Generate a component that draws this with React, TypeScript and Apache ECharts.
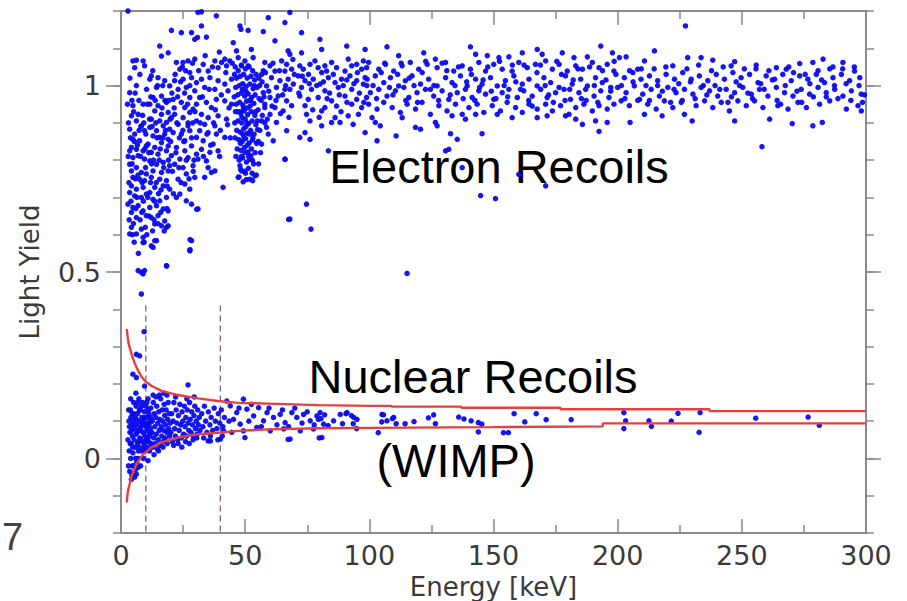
import React, { useEffect, useRef } from "react";
import * as echarts from "echarts";

// Electron-recoil events, flat [energy keV, light yield] pairs
const erBelow30: number[] = [
  4.8,1.066, 6.2,1.068, 8.9,1.066, 9.5,1.053, 5.5,1.048, 3.5,0.981, 6.2,1.0, 4.8,0.946, 4.2,0.919, 6.9,0.923,
  8.9,0.95, 6.2,0.905, 3.5,0.883, 5.5,0.87, 8.2,0.892, 9.5,0.879, 4.8,0.856, 7.5,0.852, 4.2,0.834, 3.5,0.825,
  6.2,0.829, 8.9,0.825, 10.2,0.838, 4.8,0.807, 6.9,0.812, 9.5,0.803, 3.5,0.789, 4.2,0.771, 6.2,0.78, 8.2,0.767,
  10.2,0.763, 4.8,0.754, 7.5,0.749, 9.5,0.745, 4.2,0.731, 6.2,0.722, 3.5,0.713, 8.9,0.727, 5.5,0.704, 8.2,0.7,
  10.2,0.709, 2.8,0.682, 4.8,0.673, 6.9,0.678, 4.2,0.66, 8.9,0.664, 6.2,0.646, 10.2,0.651, 4.2,0.62, 3.5,0.602,
  8.2,0.615, 8.9,0.593, 6.2,0.602, 8.9,0.579, 12.9,0.566, 14.3,0.584, 6.9,0.504, 8.2,0.499, 9.5,0.504, 8.9,0.495,
  8.2,0.441, 18.4,0.516, 27.8,0.587, 27.8,0.56, 30.5,0.668, 2.8,1.2,
  15.6,1.106, 16.3,1.079, 19.0,1.088, 12.2,1.026, 11.6,1.017, 14.9,1.021, 17.6,1.013, 14.3,0.995, 19.6,0.999, 12.9,0.968,
  16.3,0.972, 18.3,0.955, 11.6,0.95, 14.9,0.946, 13.6,0.932, 16.3,0.923, 19.0,0.928, 12.2,0.91, 15.6,0.905, 18.3,0.901,
  20.3,0.914, 11.6,0.888, 14.3,0.879, 17.0,0.892, 19.6,0.883, 12.9,0.865, 15.6,0.861, 19.0,0.856, 17.6,0.87, 10.9,0.843,
  13.6,0.834, 16.3,0.847, 19.0,0.838, 12.2,0.821, 14.9,0.816, 18.3,0.825, 20.3,0.812, 11.6,0.798, 14.3,0.789, 17.0,0.794,
  19.6,0.785, 12.9,0.771, 16.3,0.767, 19.0,0.771, 12.2,0.754, 15.6,0.749, 18.3,0.745, 13.6,0.727, 17.0,0.731, 19.6,0.722,
  11.6,0.713, 12.9,0.695, 15.6,0.691, 18.3,0.7, 11.6,0.673, 14.3,0.678, 17.0,0.669, 19.0,0.664, 12.2,0.646, 14.9,0.651,
  17.6,0.637, 13.6,0.629, 16.3,0.624, 19.0,0.624, 18.3,0.62, 12.2,0.57, 13.6,0.584, 18.3,0.517,
  20.3,1.148, 24.3,1.142, 28.4,1.142, 29.7,1.124, 22.3,1.062, 25.0,1.062, 27.0,1.066, 29.7,1.071, 23.7,1.044, 27.7,1.035,
  21.6,1.013, 25.0,1.017, 28.4,1.021, 30.4,1.008, 23.0,0.99, 26.3,0.995, 29.7,0.986, 21.0,0.963, 24.3,0.955, 27.7,0.968,
  30.4,0.95, 25.7,0.941, 29.0,0.937, 21.6,0.923, 25.0,0.914, 27.7,0.928, 30.4,0.905, 23.0,0.896, 27.0,0.892, 21.0,0.874,
  24.3,0.87, 27.7,0.879, 30.4,0.861, 25.7,0.852, 22.3,0.834, 25.7,0.825, 28.4,0.838, 30.4,0.816, 23.7,0.803, 27.0,0.807,
  21.6,0.789, 25.0,0.78, 29.0,0.785, 26.3,0.763, 29.7,0.754, 23.0,0.749, 25.7,0.736, 27.7,0.722, 23.7,0.709, 26.3,0.691,
  28.4,0.682, 31.0,0.669, 22.3,0.7, 27.7,0.557, 28.4,0.584,
  3.0,0.9, 3.8,0.86, 4.5,0.79, 5.1,0.93, 5.8,0.75, 6.6,0.84, 7.2,0.96, 7.9,0.81, 8.5,0.74, 9.2,0.9,
  9.9,0.78, 10.6,0.95, 11.2,0.82, 11.9,0.74, 12.5,0.89, 13.1,0.8, 13.8,0.96, 14.5,0.86, 15.1,0.71, 15.8,0.83,
  16.5,0.94, 17.2,0.78, 17.9,0.88, 18.6,0.73, 19.3,0.96, 20.0,0.85, 20.7,0.77, 21.4,0.94, 22.1,0.82, 22.8,0.97,
  23.5,0.86, 24.2,0.74, 24.9,0.88, 25.6,0.98, 26.3,0.8, 27.0,0.9, 27.7,1.0, 28.4,0.86, 29.1,0.77, 29.8,0.93,
  3.2,0.74, 4.0,0.69, 5.0,0.63, 6.4,0.7, 7.7,0.64, 9.0,0.69, 10.4,0.6, 11.3,0.65, 12.7,0.61, 13.5,0.69,
  14.9,0.63, 16.0,0.66, 17.4,0.61, 5.3,0.58, 7.0,0.55, 9.8,0.62, 8.0,0.89, 10.0,0.87, 12.0,0.97, 14.0,0.9,
  16.8,1.0, 19.8,0.91, 21.8,1.03, 24.0,1.01, 26.0,1.04, 28.8,1.06,
  2.6,0.95, 2.9,0.81, 3.3,0.64, 3.6,1.02, 4.4,0.96, 4.6,0.6, 5.4,0.85, 5.7,0.98, 6.0,0.67, 6.8,0.76,
  7.3,0.88, 7.6,1.03, 8.4,0.66, 8.7,0.92, 9.3,0.58, 9.6,0.83, 10.3,0.99, 10.8,0.7, 11.5,0.91, 12.3,0.79,
  12.8,1.04, 13.3,0.64, 14.2,0.74, 14.7,1.0, 15.4,0.8, 16.1,0.72, 16.9,0.86, 17.7,0.96, 18.5,0.67, 19.1,0.8,
  20.5,0.98, 21.1,0.71, 22.5,0.9, 23.3,0.78, 24.7,1.05, 25.3,0.85, 26.8,0.95, 27.4,0.75, 28.9,0.9, 29.4,0.8,
];

const erNear50: number[] = [
  31.0,1.196, 32.4,1.198, 38.4,1.187, 34.4,1.13, 30.8,1.129, 32.4,1.16, 45.2,1.115, 37.8,1.066, 40.5,1.062, 41.8,1.071,
  43.8,1.066, 39.1,1.048, 42.5,1.053, 33.1,1.057, 35.1,1.039, 32.4,1.017, 35.8,1.021, 39.1,1.013, 41.8,1.004, 44.5,1.017,
  33.7,0.995, 37.8,0.99, 43.1,0.986, 31.7,0.968, 34.4,0.955, 38.4,0.963, 41.8,0.959, 44.5,0.95, 36.4,0.941, 32.4,0.923,
  35.1,0.914, 39.1,0.919, 42.5,0.91, 33.7,0.896, 37.8,0.892, 31.7,0.879, 35.1,0.874, 38.4,0.87, 41.8,0.861, 33.1,0.852,
  37.1,0.843, 32.4,0.829, 35.8,0.821, 39.1,0.825, 31.0,0.803, 34.4,0.798, 35.1,0.78, 36.4,0.767, 33.7,0.754, 37.8,0.771,
  41.1,0.727,
  31.3,1.04, 33.9,1.08, 36.8,1.05, 39.6,1.09, 42.2,1.035, 44.8,1.06, 32.8,0.97, 35.5,0.99, 38.0,0.935, 40.4,0.975,
  43.5,0.94, 31.9,0.9, 34.6,0.87, 37.3,0.9, 40.0,0.88, 42.9,0.895, 33.2,0.81, 36.1,0.84, 39.7,0.81, 44.0,0.86,
  // the 50 keV line
  46.0,1.05, 47.2,1.04, 48.5,1.055, 50.1,1.045, 51.6,1.05, 53.0,1.04, 54.4,1.03, 46.5,1.02, 48.0,1.025, 49.4,1.03,
  50.8,1.02, 52.3,1.025, 53.8,1.015, 55.5,1.02, 46.2,0.995, 47.6,1.0, 49.0,1.005, 50.4,0.998, 51.9,1.004, 53.2,0.992,
  54.8,0.995, 47.0,0.975, 48.4,0.98, 49.8,0.972, 51.2,0.978, 52.6,0.968, 54.0,0.975, 55.6,0.965, 46.4,0.95, 47.8,0.955,
  49.1,0.948, 50.6,0.958, 52.0,0.945, 53.5,0.952, 46.9,0.93, 48.2,0.925, 49.6,0.932, 51.0,0.922, 52.4,0.93, 53.9,0.92,
  55.2,0.935, 47.1,0.905, 48.6,0.9, 50.0,0.91, 51.4,0.898, 52.8,0.905, 54.3,0.895, 46.6,0.88, 48.0,0.875, 49.4,0.884,
  50.8,0.872, 52.2,0.88, 53.6,0.87, 55.0,0.882, 47.4,0.855, 48.8,0.85, 50.2,0.858, 51.6,0.846, 53.0,0.854, 54.6,0.845,
  46.8,0.83, 48.3,0.826, 49.7,0.834, 51.1,0.822, 52.5,0.83, 54.0,0.82, 47.6,0.8, 49.0,0.806, 50.5,0.795, 51.9,0.802,
  53.4,0.79, 48.2,0.775, 49.8,0.77, 51.3,0.778, 52.8,0.765, 47.5,0.755, 50.5,0.748, 54.5,0.76, 49.2,0.742, 53.0,0.745,
  48.9,0.99, 50.3,0.985, 51.7,0.96, 49.3,0.94, 50.9,0.94, 48.7,0.915, 50.3,0.89, 51.8,0.87, 49.5,0.86, 50.9,0.84,
  52.3,0.812, 48.5,0.81, 49.9,0.82, 46.5,1.093, 47.2,1.075, 49.9,1.066, 52.5,1.097, 53.2,1.075, 51.2,1.053, 48.5,1.053,
  47.9,1.16, 48.3,1.151, 51.2,1.148, 47.2,0.754, 51.9,0.749, 48.5,0.771, 53.9,0.758, 56.6,0.905, 59.3,0.87,
  56.6,0.843, 61.3,0.852, 58.6,0.888, 57.9,0.941,
  55.8,1.0, 56.4,0.96, 56.9,0.92, 57.3,1.04, 55.9,0.88, 56.2,0.82, 57.6,0.97, 55.4,0.79, 56.8,1.01, 57.9,0.9,
  45.8,0.9, 45.6,0.97, 45.9,0.86, 46.3,0.81, 45.7,1.03, 47.7,0.93, 49.0,0.87, 50.7,0.9, 52.1,0.96, 53.7,1.0,
  54.2,0.93, 53.1,0.86, 51.4,0.81, 48.1,0.845, 47.9,0.785, 50.1,0.765, 52.9,0.8, 54.9,0.905, 55.3,0.85, 46.1,0.93,
  57.3,1.145, 62.0,1.12, 59.3,1.182, 66.0,1.169, 68.0,1.196, 67.3,1.093, 68.0,1.084, 57.9,1.062, 60.0,1.053, 62.0,1.039,
  64.7,1.066, 66.7,1.057, 68.7,1.044, 66.0,1.039, 56.6,1.03, 60.6,1.021, 64.0,1.013, 67.3,1.017, 58.6,0.999, 62.6,0.995,
  66.0,0.99, 69.4,1.004, 57.3,0.981, 60.0,0.968, 63.3,0.972, 66.7,0.959, 57.9,0.95, 62.0,0.941, 65.3,0.932, 68.7,0.946,
  60.0,0.923, 62.6,0.901, 66.7,0.879, 66.0,0.803, 68.0,0.642, 74.7,0.682, 76.5,0.615, 67.5,0.641, 66.1,0.802,
  58.2,1.035, 61.2,1.06, 63.8,1.04, 66.3,1.0, 69.2,1.07, 59.5,0.985, 62.4,0.96, 65.1,0.975, 68.0,0.99, 60.8,0.945,
  64.2,0.925, 67.6,0.915, 58.9,0.91, 69.8,1.03,
];

const erTo100: number[] = [
  72.7,1.142, 80.1,1.124, 80.8,1.097, 90.9,1.106, 98.3,1.097, 72.7,1.088, 72.0,1.053, 73.4,1.044, 76.1,1.057, 78.1,1.066,
  79.4,1.048, 82.1,1.053, 84.8,1.062, 86.8,1.048, 90.2,1.039, 92.9,1.053, 94.9,1.057, 96.9,1.044, 98.9,1.048, 80.8,1.035,
  82.8,1.039, 91.5,1.071, 97.6,1.066, 71.4,1.026, 74.1,1.013, 77.4,1.017, 80.1,1.004, 83.5,1.021, 86.2,1.008, 88.8,1.017,
  92.2,1.026, 94.9,1.013, 97.6,1.004, 72.7,0.995, 76.7,0.99, 82.1,0.986, 87.5,0.995, 92.9,0.99, 98.3,1.021, 72.0,0.972,
  75.4,0.963, 79.4,0.968, 84.8,0.959, 90.2,0.972, 94.9,0.963, 98.9,0.968, 74.1,0.946, 82.1,0.941, 92.9,0.95, 96.9,0.941,
  74.7,0.923, 80.8,0.932, 86.2,0.914, 91.5,0.919, 95.6,0.923, 76.1,0.905, 84.8,0.901, 88.2,0.901, 93.5,0.896, 74.1,0.874,
  80.8,0.892, 98.3,0.874, 72.0,0.861, 76.1,0.856, 83.5,0.825,
  73.0,1.025, 75.5,1.03, 78.8,1.0, 81.5,1.01, 84.0,0.98, 85.5,1.03, 87.9,0.975, 89.5,1.0, 91.0,0.955, 93.8,1.005,
  96.0,0.98, 97.8,0.955, 99.0,1.0, 77.2,0.935, 79.8,0.915, 83.0,0.965, 86.8,0.945, 88.6,0.93, 90.9,1.015, 95.2,1.035,
  71.6,0.98, 75.8,1.005,
];

const erTo200: number[] = [
  107.1,1.104, 111.8,1.08, 121.9,1.088, 126.6,1.071, 140.7,1.104, 142.8,1.084, 147.5,1.08, 152.2,1.075, 156.2,1.077, 161.6,1.088,
  167.6,1.097, 169.6,1.084, 177.7,1.088, 182.4,1.075, 187.8,1.077, 193.2,1.106, 197.9,1.088,
  99.7,1.062, 103.8,1.044, 106.5,1.057, 109.8,1.039, 113.2,1.053, 116.5,1.062, 119.9,1.044, 123.3,1.057, 127.3,1.048, 130.7,1.062,
  134.0,1.039, 137.4,1.053, 140.7,1.044, 144.1,1.062, 146.8,1.039, 150.1,1.057, 153.5,1.044, 157.5,1.039, 160.2,1.062, 163.6,1.048,
  166.9,1.057, 171.0,1.066, 173.7,1.044, 176.4,1.057, 179.7,1.039, 183.1,1.053, 185.8,1.044, 189.8,1.062, 192.5,1.048, 195.8,1.057,
  198.5,1.039,
  99.1,1.017, 102.4,1.026, 105.8,1.008, 108.5,1.021, 111.8,0.999, 114.5,1.013, 117.2,1.026, 120.6,1.004, 123.9,1.017, 127.3,0.999,
  130.7,1.021, 133.3,1.008, 136.7,1.026, 139.4,0.999, 142.8,1.017, 145.4,1.004, 148.8,1.021, 151.5,0.999, 154.8,1.013, 158.2,1.026,
  161.6,1.004, 164.3,1.017, 167.6,0.999, 170.3,1.021, 173.0,1.008, 176.4,0.995, 179.0,1.026, 181.7,1.004, 185.1,1.017, 187.8,0.999,
  191.1,1.021, 193.8,1.008, 197.2,0.995,
  100.4,0.981, 103.8,0.99, 107.1,0.972, 110.5,0.986, 113.9,0.995, 115.9,0.968, 119.2,0.981, 122.6,0.99, 125.9,0.972, 129.3,0.986,
  132.0,0.963, 135.4,0.981, 138.7,0.99, 141.4,0.968, 144.1,0.986, 146.8,0.977, 150.1,0.963, 153.5,0.981, 156.2,0.99, 159.6,0.968,
  162.2,0.986, 165.6,0.972, 169.0,0.99, 171.6,0.968, 175.0,0.981, 178.4,0.99, 181.0,0.963, 184.4,0.981, 187.1,0.99, 190.5,0.972,
  193.2,0.986, 196.5,0.968,
  99.7,0.95, 103.1,0.937, 105.8,0.955, 109.2,0.941, 112.5,0.928, 115.2,0.95, 118.6,0.937, 121.2,0.955, 124.6,0.923, 128.0,0.946,
  131.3,0.932, 134.7,0.95, 137.4,0.923, 140.1,0.941, 143.4,0.95, 146.1,0.928, 149.5,0.946, 152.8,0.932, 155.5,0.955, 158.9,0.941,
  161.6,0.928, 164.3,0.95, 167.6,0.937, 171.0,0.95, 173.7,0.932, 177.0,0.946, 180.4,0.923, 183.1,0.941, 186.4,0.95, 189.8,0.932,
  192.5,0.946, 195.8,0.937, 198.5,0.95,
  102.4,0.901, 104.4,0.892, 101.1,0.914, 113.2,0.914, 118.6,0.888, 120.6,0.883, 126.6,0.901, 127.3,0.892, 133.3,0.919, 138.7,0.91,
  142.8,0.923, 151.5,0.923, 157.5,0.914, 167.6,0.914, 171.6,0.919, 179.0,0.919, 183.1,0.91, 185.8,0.896, 191.1,0.905, 195.8,0.901,
  130.7,0.825, 132.0,0.829, 137.4,0.78, 144.8,0.705, 150.8,0.697, 115.2,0.496, 171.0,0.731, 160.2,0.762, 103.1,0.852, 110.8,0.865,
  145.4,0.871, 135.4,0.856, 132.7,0.871, 192.5,0.877,
  101.5,1.0, 104.8,1.035, 108.1,0.995, 111.4,1.03, 114.7,0.96, 118.0,1.0, 121.3,1.035, 124.6,0.99, 127.9,0.96, 131.2,1.04,
  134.5,1.0, 137.8,0.965, 141.1,1.03, 144.4,0.995, 147.7,1.05, 151.0,0.965, 154.3,1.0, 157.6,1.055, 160.9,0.99, 164.2,0.96,
  167.5,1.035, 170.8,1.0, 174.1,0.955, 177.4,1.03, 180.7,0.99, 184.0,1.045, 187.3,0.96, 190.6,1.0, 193.9,1.04, 197.2,0.985,
  102.9,0.965, 106.2,1.06, 109.5,0.975, 112.8,1.06, 116.1,1.02, 119.4,0.955, 122.7,1.065, 126.0,1.0, 129.3,1.06, 132.6,0.975,
  135.9,1.05, 139.2,1.01, 142.5,0.96, 145.8,1.015, 149.1,0.985, 152.4,1.065, 155.7,0.97, 159.0,1.01, 162.3,1.055, 165.6,0.945,
  168.9,1.055, 172.2,0.975, 175.5,1.065, 178.8,0.96, 182.1,1.015, 185.4,0.965, 188.7,1.05, 192.0,0.955, 195.3,1.015, 198.6,1.065,
];

const erTo300: number[] = [
  227.3,1.16, 214.8,1.093, 210.8,1.066, 222.2,1.053, 228.2,1.075, 233.6,1.075, 238.3,1.068, 245.7,1.053, 247.1,1.064, 255.8,1.055,
  263.9,1.048, 267.9,1.044, 273.3,1.059, 278.6,1.062, 282.7,1.071, 286.7,1.05, 290.7,1.062, 295.4,1.039, 200.7,1.075, 203.4,1.077,
  208.1,1.044,
  199.3,1.03, 202.7,1.021, 206.1,1.035, 209.4,1.017, 212.8,1.026, 216.1,1.013, 219.5,1.03, 222.9,1.017, 226.2,1.035, 229.6,1.017,
  232.9,1.026, 236.3,1.013, 239.7,1.03, 243.0,1.017, 246.4,1.035, 249.7,1.021, 253.1,1.03, 256.5,1.008, 259.8,1.026, 263.2,1.017,
  266.5,1.03, 269.9,1.013, 273.3,1.026, 276.6,1.017, 280.0,1.03, 283.3,1.008, 286.7,1.021, 290.1,1.03, 293.4,1.013, 297.5,1.021,
  200.0,0.995, 203.4,0.981, 206.7,0.999, 210.1,0.977, 213.5,0.99, 216.8,0.972, 220.2,0.995, 223.5,0.981, 226.9,0.99, 230.3,0.977,
  233.6,0.995, 237.0,0.986, 240.3,0.972, 243.7,0.99, 247.1,0.981, 250.4,0.995, 253.8,0.977, 257.1,0.99, 260.5,0.972, 263.9,0.995,
  267.2,0.981, 270.6,0.972, 273.9,0.99, 277.3,0.977, 280.7,0.995, 284.0,0.981, 287.4,0.99, 290.7,0.972, 294.1,0.986, 298.1,0.977,
  201.4,0.959, 204.7,0.946, 208.8,0.963, 212.1,0.95, 215.5,0.937, 218.8,0.959, 222.2,0.941, 225.6,0.955, 231.6,0.946, 235.0,0.959,
  238.3,0.941, 241.7,0.955, 245.0,0.932, 248.4,0.959, 251.8,0.946, 255.1,0.959, 258.5,0.941, 264.5,0.946, 268.6,0.937, 272.6,0.955,
  276.0,0.941, 281.3,0.95, 285.4,0.959, 292.1,0.937, 296.8,0.946, 298.1,0.932,
  258.1,0.836, 205.0,0.901, 278.6,0.892, 282.4,0.901, 247.1,0.905, 230.0,0.905, 217.9,0.919, 226.9,0.923, 261.2,0.91, 270.3,0.898,
  210.8,0.923,
  201.5,1.0, 204.8,1.04, 208.1,0.96, 211.4,1.0, 214.7,1.045, 218.0,0.985, 221.3,0.955, 224.6,1.005, 227.9,1.045, 231.2,0.965,
  234.5,1.0, 237.8,1.04, 241.1,0.99, 244.4,0.955, 247.7,1.01, 251.0,1.045, 254.3,0.965, 257.6,1.005, 260.9,1.04, 264.2,0.96,
  267.5,1.0, 270.8,1.035, 274.1,0.955, 277.4,1.005, 280.7,1.04, 284.0,0.97, 287.3,1.0, 290.6,1.045, 293.9,0.96, 297.2,1.0,
  299.4,0.975,
  202.9,0.965, 206.2,1.01, 209.5,1.045, 212.8,0.96, 216.1,1.0, 219.4,1.05, 222.7,0.99, 226.0,0.96, 229.3,1.01, 232.6,1.055,
  235.9,0.975, 239.2,1.0, 242.5,1.05, 245.8,0.97, 249.1,1.0, 252.4,0.98, 255.7,1.045, 259.0,0.99, 262.3,1.015, 265.6,0.95,
  268.9,1.05, 272.2,0.985, 275.5,1.03, 278.8,0.97, 282.1,1.015, 285.4,1.045, 288.7,0.965, 292.0,1.005, 295.3,1.05, 298.6,0.955,
];

// Nuclear-recoil (neutron calibration) events
const nrBelow12: number[] = [
  9.3,0.34, 6.2,0.279, 7.5,0.275, 4.8,0.226, 6.2,0.217, 9.5,0.194,
  2.8,0.05, 3.0,-0.02, 3.2,0.1, 3.3,0.02, 3.5,-0.035, 3.6,0.07, 3.8,0.13, 3.9,0.0, 4.1,0.04, 4.2,0.09,
  4.4,-0.045, 4.5,0.12, 4.6,0.06, 4.8,0.015, 4.9,0.1, 5.0,-0.02, 5.1,0.15, 5.3,0.05, 5.4,0.08, 5.5,-0.05,
  5.7,0.11, 5.8,0.03, 6.0,0.065, 6.1,0.14, 6.3,-0.01, 6.4,0.09, 6.6,0.04, 6.7,0.12, 6.9,0.0, 7.0,0.075,
  7.2,0.16, 7.3,0.03, 7.5,0.1, 7.6,0.055, 7.8,0.13, 7.9,-0.02, 8.1,0.085, 8.2,0.02, 8.4,0.11, 8.5,0.045,
  8.7,0.15, 8.8,0.07, 9.0,0.0, 9.1,0.1, 9.3,0.035, 9.4,0.125, 9.6,0.06, 9.7,0.09, 9.9,0.02, 10.0,0.14,
  10.2,0.05, 10.3,0.11, 10.5,0.075, 10.6,0.03, 10.8,0.095, 10.9,0.16, 11.1,0.045, 11.2,0.12, 11.4,0.065, 11.5,0.02,
  11.7,0.1, 11.8,0.08, 12.0,0.135, 12.1,0.04,
  3.4,0.085, 3.7,0.04, 4.0,0.11, 4.3,0.075, 4.7,0.03, 5.2,0.12, 5.6,0.09, 5.9,0.0, 6.2,0.105, 6.5,0.07,
  6.8,0.15, 7.1,0.045, 7.4,0.13, 7.7,0.08, 8.0,0.05, 8.3,0.14, 8.6,0.095, 8.9,0.025, 9.2,0.07, 9.5,0.11,
  9.8,0.045, 10.1,0.085, 10.4,0.15, 10.7,0.055, 11.0,0.13, 11.3,0.09, 11.6,0.06, 11.9,0.11, 4.5,-0.02, 5.8,-0.03,
  7.0,0.02, 3.1,0.13, 3.9,0.16, 6.0,0.175, 4.2,-0.056, 6.9,-0.024, 10.9,-0.006, 6.2,-0.042,
];

const nrTo32: number[] = [
  12.4,0.07, 12.6,0.1, 12.8,0.03, 13.0,0.15, 13.2,0.055, 13.4,0.12, 13.6,0.085, 13.8,0.04, 14.0,0.11, 14.2,0.065,
  14.4,0.14, 14.6,0.025, 14.8,0.095, 15.0,0.05, 15.2,0.125, 15.4,0.075, 15.6,0.105, 15.8,0.035, 16.0,0.16, 16.2,0.085,
  16.4,0.06, 16.6,0.13, 16.8,0.1, 17.0,0.045, 17.2,0.075, 17.4,0.145, 17.6,0.115, 17.8,0.055, 18.0,0.09, 18.2,0.13,
  18.4,0.07, 18.6,0.04, 18.8,0.105, 19.0,0.15, 19.2,0.08, 19.4,0.12, 19.6,0.06, 19.8,0.095,
  12.9,0.17, 14.1,0.165, 15.5,0.17, 17.3,0.175, 18.5,0.17, 13.3,0.01, 15.1,0.02, 16.9,0.03,
  20.1,0.07, 20.4,0.12, 20.7,0.045, 21.0,0.1, 21.3,0.15, 21.6,0.08, 21.9,0.06, 22.2,0.13, 22.5,0.095, 22.8,0.05,
  23.1,0.115, 23.4,0.075, 23.7,0.145, 24.0,0.09, 24.3,0.055, 24.6,0.125, 24.9,0.1, 25.2,0.065, 25.5,0.14, 25.8,0.085,
  26.1,0.11, 26.4,0.06, 26.7,0.13, 27.0,0.095, 27.3,0.075, 27.6,0.15, 27.9,0.105, 28.2,0.07, 28.5,0.125, 28.8,0.09,
  29.1,0.06, 29.4,0.115, 29.7,0.14, 30.0,0.08, 30.3,0.1, 30.6,0.065, 30.9,0.13, 31.2,0.09, 31.5,0.11, 31.8,0.075,
  21.2,0.035, 23.0,0.04, 24.5,0.03, 26.0,0.045, 27.5,0.04, 29.0,0.05, 30.5,0.055, 22.0,0.165, 26.5,0.16, 29.5,0.165,
  27.0,0.197,
];

const nrTo80: number[] = [
  32.5,0.12, 33.0,0.085, 33.6,0.14, 34.1,0.1, 34.6,0.07, 35.2,0.125, 35.8,0.09, 36.3,0.11, 36.9,0.075, 37.5,0.135,
  38.0,0.1, 38.6,0.08, 39.2,0.12, 39.8,0.095, 40.4,0.13, 41.0,0.085, 41.6,0.11, 33.3,0.055, 36.0,0.06, 39.0,0.05,
  40.8,0.06, 35.1,0.047,
  42.6,0.154, 49.3,0.159, 44.0,0.141, 46.6,0.123, 45.3,0.105, 48.0,0.092, 50.7,0.132, 53.4,0.114, 55.4,0.136, 57.4,0.101,
  58.8,0.123, 61.4,0.11, 64.1,0.118, 66.1,0.096, 68.8,0.123, 70.8,0.11, 73.5,0.118, 76.2,0.101, 78.9,0.114,
  68.1,0.052, 77.5,0.079, 72.2,0.074, 65.5,0.079, 60.1,0.074, 54.7,0.083, 49.3,0.074, 44.6,0.07, 41.3,0.074, 40.0,0.052,
  36.0,0.047, 49.9,0.056, 67.3,0.051,
  43.5,0.1, 47.5,0.135, 51.5,0.1, 52.5,0.145, 56.5,0.085, 59.6,0.135, 62.8,0.09, 65.0,0.13, 67.5,0.085, 70.0,0.135,
  72.9,0.095, 75.0,0.125, 77.8,0.09, 79.5,0.105,
];

const nrTo300: number[] = [
  80.2,0.123, 81.6,0.092, 85.6,0.101, 88.3,0.118, 91.0,0.123, 93.7,0.11, 95.0,0.105, 105.1,0.118, 107.1,0.101, 109.8,0.11,
  80.9,0.056, 80.5,0.107, 82.0,0.117, 83.4,0.088, 79.8,0.055, 90.6,0.12, 92.8,0.115, 93.5,0.093, 89.2,0.093, 94.9,0.08,
  103.6,0.069, 105.0,0.098, 105.7,0.117, 109.3,0.107, 110.8,0.093, 114.4,0.093, 118.0,0.099, 123.8,0.109, 125.9,0.117, 126.6,0.093,
  136.0,0.111, 138.1,0.106, 141.0,0.101, 143.9,0.096, 145.3,0.092, 143.9,0.071, 154.0,0.069, 156.0,0.069, 158.3,0.12, 167.2,0.12,
  162.6,0.098, 171.2,0.104, 181.3,0.104,
  202.5,0.123, 203.2,0.101, 202.5,0.08, 212.6,0.101, 213.6,0.086, 221.6,0.1, 224.3,0.121, 233.2,0.123, 232.8,0.07, 255.6,0.108,
  276.7,0.111, 281.2,0.089,
];

// Acceptance band of the nuclear recoils (upper and lower edges)
const bandUpper: number[] = [
  2.3,0.347, 3.0,0.31, 4.3,0.279, 5.5,0.255, 6.9,0.235, 8.2,0.22, 9.6,0.208, 12.2,0.195, 16.3,0.181, 23.0,0.17,
  31.0,0.161, 39.0,0.154, 47.2,0.149, 59.3,0.147, 79.4,0.143, 100,0.141, 109,0.141, 109,0.139, 137,0.139, 137,0.136,
  177,0.136, 177,0.132, 237,0.132, 237,0.127, 300,0.127,
];
const bandLower: number[] = [
  2.3,-0.118, 2.8,-0.087, 4.3,-0.047, 6.2,-0.015, 8.9,0.011, 12.2,0.029, 16.3,0.043, 23.0,0.056, 31.0,0.065, 39.0,0.069,
  47.2,0.074, 59.3,0.078, 79.4,0.081, 100,0.082, 150,0.084, 194,0.086, 194,0.094, 300,0.094,
];

// Energy window of the analysis (keV) and the top of its markers
const windowEdges: number[] = [10, 40];
const windowTop = 0.41;

const xTicks = { min: 0, max: 300, interval: 50 };
const yRange = { min: -0.2, max: 1.2 };
const yLabelValues: number[] = [0, 0.5, 1];

const pairs = (flat: number[]): number[][] => {
  const out: number[][] = [];
  for (let i = 0; i + 1 < flat.length; i += 2) out.push([flat[i], flat[i + 1]]);
  return out;
};

const AXIS_FONT = "'DejaVu Sans', Verdana, sans-serif";
const LABEL_FONT = "'Liberation Sans', Arial, Helvetica, sans-serif";
const AXIS_GREY = "#8a8a8a";
const TEXT_GREY = "#3a3a3a";
const DOT_BLUE = "#0a0aee";
const BAND_RED = "#e5403f";
const WINDOW_COLOR = "#86607e";

export default function App() {
  const ref = useRef<HTMLDivElement>(null);

  useEffect(() => {
    if (!ref.current) return;
    const chart = echarts.init(ref.current, undefined, { renderer: "svg" });

    const erPoints = [
      ...pairs(erBelow30),
      ...pairs(erNear50),
      ...pairs(erTo100),
      ...pairs(erTo200),
      ...pairs(erTo300),
    ];
    const nrPoints = [
      ...pairs(nrBelow12),
      ...pairs(nrTo32),
      ...pairs(nrTo80),
      ...pairs(nrTo300),
    ];

    const lineAxis = { show: true, onZero: false, lineStyle: { color: AXIS_GREY, width: 2 } };
    const tickLine = { color: AXIS_GREY, width: 1.5 };

    const xCommon = {
      type: "value" as const,
      min: xTicks.min,
      max: xTicks.max,
      interval: xTicks.interval,
      splitLine: { show: false },
      axisLine: lineAxis,
      axisTick: { show: true, inside: true, length: 14, lineStyle: tickLine },
      minorTick: { show: true, splitNumber: 2, length: 8, lineStyle: tickLine },
    };

    const yMinor = {
      type: "value" as const,
      min: yRange.min,
      max: yRange.max,
      interval: 0.1,
      splitLine: { show: false },
      axisLine: lineAxis,
      axisTick: { show: true, inside: false, length: 8, lineStyle: tickLine },
    };
    const yMajor = {
      type: "value" as const,
      min: yRange.min,
      max: yRange.max,
      splitLine: { show: false },
      axisLine: { show: false, onZero: false },
      axisLabel: { show: false },
      axisTick: {
        show: true,
        inside: false,
        length: 15,
        customValues: yLabelValues,
        lineStyle: tickLine,
      },
    };

    const bigText = (text: string, x: number, y: number) => ({
      type: "text",
      x,
      y,
      style: {
        text,
        fill: "#000",
        font: `47px ${LABEL_FONT}`,
        textAlign: "center",
        textVerticalAlign: "bottom",
      },
    });

    chart.setOption({
      animation: false,
      backgroundColor: "#ffffff",
      grid: {
        left: 121,
        right: 41,
        top: 11,
        bottom: 68,
        containLabel: false,
        outerBoundsMode: "none",
      },
      xAxis: [
        {
          ...xCommon,
          position: "bottom",
          name: "Energy [keV]",
          nameLocation: "middle",
          nameGap: 36,
          nameTextStyle: { fontFamily: AXIS_FONT, fontSize: 26, color: TEXT_GREY },
          axisLabel: { fontFamily: AXIS_FONT, fontSize: 27, color: TEXT_GREY, margin: 9 },
        },
        { ...xCommon, position: "top", axisLabel: { show: false } },
      ],
      yAxis: [
        {
          ...yMinor,
          position: "left",
          name: "Light Yield",
          nameLocation: "middle",
          nameGap: 78,
          nameRotate: 90,
          nameTextStyle: { fontFamily: AXIS_FONT, fontSize: 26, color: TEXT_GREY },
          axisLabel: {
            customValues: yLabelValues,
            fontFamily: AXIS_FONT,
            fontSize: 27,
            color: TEXT_GREY,
            margin: 20,
          },
        },
        { ...yMinor, position: "right", axisLabel: { show: false } },
        { ...yMajor, position: "left" },
        { ...yMajor, position: "right" },
      ],
      series: [
        {
          type: "scatter",
          name: "Electron Recoils",
          data: erPoints,
          symbol: "circle",
          symbolSize: 5.5,
          itemStyle: { color: DOT_BLUE, opacity: 0.95 },
          z: 3,
        },
        {
          type: "scatter",
          name: "Nuclear Recoils",
          data: nrPoints,
          symbol: "circle",
          symbolSize: 5.5,
          itemStyle: { color: DOT_BLUE, opacity: 0.95 },
          z: 3,
        },
        {
          type: "line",
          data: pairs(bandUpper),
          showSymbol: false,
          symbol: "none",
          lineStyle: { color: BAND_RED, width: 2.4 },
          z: 4,
        },
        {
          type: "line",
          data: pairs(bandLower),
          showSymbol: false,
          symbol: "none",
          lineStyle: { color: BAND_RED, width: 2.4 },
          z: 4,
        },
        ...windowEdges.map((e) => ({
          type: "line",
          data: [
            [e, windowTop],
            [e, yRange.min],
          ],
          showSymbol: false,
          symbol: "none",
          lineStyle: { color: WINDOW_COLOR, width: 1.3, type: [6, 4] },
          z: 2,
        })),
      ],
      graphic: [
        bigText("Electron Recoils", 499, 190),
        bigText("Nuclear Recoils", 473, 400),
        bigText("(WIMP)", 456, 484),
        {
          type: "text",
          x: 2,
          y: 518,
          style: { text: "7", fill: "#444", font: `38px ${LABEL_FONT}` },
        },
      ],
    });

    return () => chart.dispose();
  }, []);

  return (
    <div
      ref={ref}
      style={{ position: "fixed", left: 0, top: 0, width: 907, height: 601 }}
    />
  );
}
